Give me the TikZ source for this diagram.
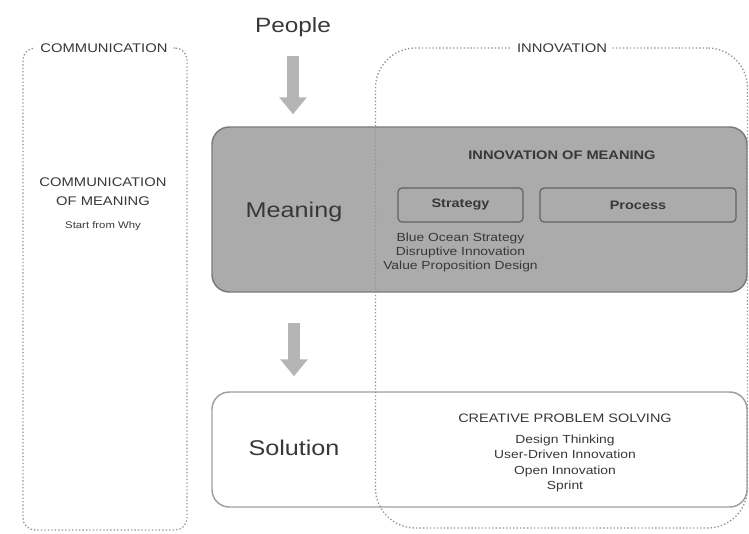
\documentclass[tikz,border=0pt]{standalone}
\usepackage{fontspec}
\setmainfont[FakeStretch=1.18]{Liberation Sans}
\usetikzlibrary{positioning,arrows.meta}

\definecolor{meaningfill}{HTML}{ABABAB}
\definecolor{edgegray}{HTML}{7A7A7A}
\definecolor{arrowgray}{HTML}{B5B5B5}
\definecolor{textgray}{HTML}{383838}

\begin{document}
\begin{tikzpicture}[x=0.75pt, y=-0.75pt,
    group box/.style={draw=gray!85, line width=1pt, dash pattern=on 1pt off 1.6pt, rounded corners=#1},
    group title/.style={fill=white, text=textgray, inner xsep=4pt, inner ysep=1pt, font=\fontsize{9.4}{11}\selectfont},
    layer box/.style={draw=edgegray, line width=1.1pt, rounded corners=13pt},
    tool box/.style={draw=edgegray!80!black, line width=0.9pt, rounded corners=3pt,
        minimum height=25.5pt, font=\bfseries\fontsize{9.2}{11}\selectfont, text=textgray},
    big label/.style={text=textgray, font=\fontsize{16}{19}\selectfont},
    small list/.style={text=textgray, align=center, font=\fontsize{8.8}{10.5}\selectfont},
    flow/.style={draw=arrowgray, line width=9pt, -{Triangle[width=20pt,length=12.75pt]}}
]
    \useasboundingbox (0,0) rectangle (749,533);

    % communication column
    \node[group box=9pt, minimum width=123pt, minimum height=361.5pt] (communication) at (105,289) {};
    \node[group title] (communication title) at (104,48) {COMMUNICATION};
    \node[text=textgray, align=center, font=\fontsize{9.4}{14}\selectfont] (communication of meaning) at (103,192)
        {COMMUNICATION\\OF MEANING};
    \node[text=textgray, font=\fontsize{7.2}{9}\selectfont] (start from why) at (103,226) {Start from Why};

    % meaning layer
    \node[layer box, fill=meaningfill, minimum width=401.25pt, minimum height=123.75pt] (meaning) at (479.5,209.5) {};
    \node[big label] (meaning label) at (294,212) {Meaning};
    \node[text=textgray, font=\bfseries\fontsize{9.3}{11}\selectfont] (innovation of meaning) at (562,155)
        {INNOVATION OF MEANING};
    \node[tool box, minimum width=93.75pt] (strategy) at (460.5,205) {Strategy};
    \node[tool box, minimum width=147pt] (process) at (638,205) {Process};
    \node[small list, below=4pt of strategy] (strategy tools)
        {Blue Ocean Strategy\\Disruptive Innovation\\Value Proposition Design};

    % solution layer
    \node[layer box, draw=gray!75, fill=white, minimum width=401.25pt, minimum height=86.25pt] (solution) at (479.5,449.5) {};
    \node[big label] (solution label) at (294,448) {Solution};
    \node[text=textgray, font=\fontsize{9.2}{11}\selectfont] (creative problem solving) at (565,418)
        {CREATIVE PROBLEM SOLVING};
    \node[small list, font=\fontsize{8.8}{11.5}\selectfont, below=2.5pt of creative problem solving] (solution tools)
        {Design Thinking\\User-Driven Innovation\\Open Innovation\\Sprint};

    % innovation column, on top of the layers
    \node[group box=30pt, minimum width=279pt, minimum height=360pt] (innovation) at (561.5,288) {};
    \node[group title] (innovation title) at (562,48) {INNOVATION};

    % people and arrows
    \node[big label, font=\fontsize{15.5}{18}\selectfont] (people) at (293,27) {People};
    \draw[flow, shorten <=11pt, shorten >=9pt] (people.south) -- (people.south |- meaning.north);
    \draw[flow, shorten <=22.5pt, shorten >=11.25pt] (meaning label |- meaning.south) -- (meaning label |- solution.north);
\end{tikzpicture}
\end{document}
